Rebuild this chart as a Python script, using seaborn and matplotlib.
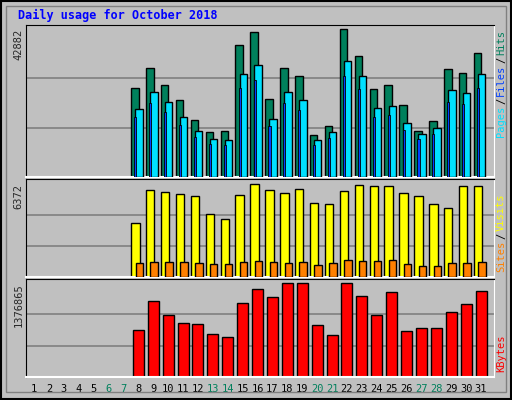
import numpy as np
import pandas as pd
import matplotlib
matplotlib.use('Agg')
import matplotlib.pyplot as plt
import seaborn as sns

days = list(range(1, 32))
active = list(range(8, 32))
weekends = [6, 7, 13, 14, 20, 21, 27, 28]

hits = [25670, 31505, 26546, 22170, 16628, 13127, 13419, 38215, 42007, 22462, 31505, 29171,
        12252, 14877, 42882, 35006, 25379, 26546, 21003, 13419, 16336, 31213, 30047, 35881]
files = [19836, 24503, 21587, 17503, 13419, 11085, 10793, 29755, 32380, 16919, 24503, 22170,
         10793, 13127, 33547, 29171, 20128, 20711, 15752, 12544, 14294, 25087, 24212, 29755]
pages = [17300, 21300, 18800, 15200, 11700, 9600, 9400, 25900, 28200, 14700, 21300, 19300,
         9400, 11400, 29200, 25400, 17500, 18000, 13700, 10900, 12400, 21800, 21100, 25900]
visits = [3711, 5952, 5812, 5672, 5532, 4341, 3991, 5602, 6372, 5952, 5742, 6022,
          5042, 4972, 5882, 6302, 6232, 6232, 5742, 5532, 4972, 4762, 6232, 6232]
sites = [980, 1050, 1050, 1050, 980, 910, 910, 1050, 1120, 1050, 980, 1050,
         840, 980, 1190, 1120, 1120, 1190, 910, 770, 770, 980, 980, 1050]
kbytes = [688440, 1107500, 912930, 793200, 778230, 628570, 583670, 1077550, 1287080, 1167350,
          1376865, 1376865, 763270, 613600, 1376865, 1182320, 912930, 1242180, 673470, 718370,
          718370, 957830, 1062590, 1257150]

sns.set_style('white')
plt.rcParams['font.family'] = ['DejaVu Sans Mono', 'DejaVu Sans']
gray = '#C0C0C0'

fig = plt.figure(figsize=(5.12, 4.0), dpi=100, facecolor=gray)
fig.patches.append(plt.Rectangle((0.002, 0.003), 0.996, 0.994, transform=fig.transFigure,
                                 fill=False, ec='black', lw=1.5))
fig.patches.append(plt.Rectangle((0.012, 0.02), 0.976, 0.965, transform=fig.transFigure,
                                 fill=False, ec='#808080', lw=1))
fig.text(18 / 512, 1 - 15 / 400, 'Daily usage for October 2018', color='#0000FF',
         fontsize=8.5, fontweight='bold', va='center')

L, W = 26 / 512, 468 / 512
ax1 = fig.add_axes([L, 1 - 177 / 400, W, 152 / 400])
ax2 = fig.add_axes([L, 1 - 277 / 400, W, 98 / 400])
ax3 = fig.add_axes([L, 1 - 377 / 400, W, 98 / 400])

x = np.array(active, dtype=float)
ec = dict(edgecolor='black', linewidth=1)

ax1.bar(x - 0.23, hits, width=0.5, color='#00805C', **ec, zorder=2)
ax1.bar(x + 0.04, files, width=0.5, color='#00E0FF', **ec, zorder=3)
ax1.bar(x - 0.2, pages, width=0.14, color='#0040FF', edgecolor='black', linewidth=0.6, zorder=4)

ax2.bar(x - 0.2, visits, width=0.56, color='#FFFF00', **ec, zorder=2)
ax2.bar(x + 0.06, sites, width=0.5, color='#FF8000', **ec, zorder=3)

kb = pd.DataFrame({'day': active, 'kbytes': kbytes})
sns.barplot(data=kb, x='day', y='kbytes', native_scale=True, color='#FF0000',
            width=0.74, saturation=1, ax=ax3, zorder=2, **ec)

panels = [(ax1, 42882, 152 / 148), (ax2, 6372, 97 / 92), (ax3, 1376865, 97 / 93)]
for ax, top, f in panels:
    ax.set_facecolor(gray)
    ax.set_xlim(0.46, 31.87)
    ax.set_ylim(0, top * f)
    for g in (top / 3, 2 * top / 3):
        ax.axhline(g, color='#808080', lw=1.2, zorder=1)
    ax.set_yticks([top])
    ax.set_yticklabels([str(top)], rotation=90, va='top', fontsize=7.5)
    ax.tick_params(axis='y', length=0, pad=2)
    ax.set_xticks([])
    ax.set_xlabel('')
    ax.set_ylabel('')
    for s in ax.spines.values():
        s.set_color('black')
    ax.spines['right'].set_color('white')
    ax.spines['bottom'].set_color('white')
    ax.spines['bottom'].set_linewidth(1.5)

ax3.set_xticks(days)
ax3.set_xticklabels([str(d) for d in days], fontsize=7.5)
ax3.tick_params(axis='x', length=0, pad=5)
for lab, d in zip(ax3.get_xticklabels(), days):
    lab.set_color('#00805C' if d in weekends else 'black')


def side_label(parts, y_bottom):
    y = y_bottom
    for txt, col in parts:
        fig.text(501 / 512, y / 400, txt, color=col, rotation=90, fontsize=7.5,
                 ha='center', va='bottom')
        y += len(txt) * 6.2 + 2


side_label([('Pages', '#00E0FF'), ('/', 'black'), ('Files', '#0040FF'), ('/', 'black'),
            ('Hits', '#00805C')], 400 - 177 + 40)
side_label([('Sites', '#FF8000'), ('/', 'black'), ('Visits', '#FFFF00')], 400 - 276 + 4)
side_label([('KBytes', '#FF0000')], 400 - 376 + 4)

plt.savefig('out.png', dpi=100, facecolor=gray)
